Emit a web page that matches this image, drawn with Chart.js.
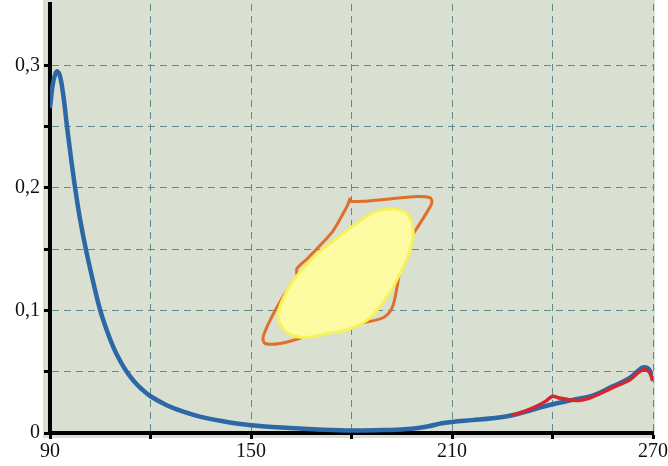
<!DOCTYPE html>
<html>
<head>
<meta charset="utf-8">
<script src="https://cdn.jsdelivr.net/npm/chart.js@4.4.1/dist/chart.umd.min.js"></script>
<style>
  html, body { margin: 0; padding: 0; background: #fff; }
  #wrap { width: 668px; height: 466px; }
</style>
</head>
<body>
<div id="wrap"><canvas id="specChart" width="668" height="466"></canvas></div>
<script>
// main spectrum (blue) and second measurement (red)
const blueX = [90, 90.8, 91.6, 92.2, 93.0, 94.0, 95.0, 96.0, 97.5, 99.0, 100.7, 103.0, 105.0, 107.0, 109.0, 111.0, 113.0, 115.0, 117.5, 120.0, 125.0, 130.0, 135.0, 142.0, 150.0, 161.6, 170, 180, 190, 198, 203, 207, 210, 216, 222, 228, 234, 240, 246, 252, 257.2, 263.1, 265.5, 267, 268.3, 269.2, 270];
const blueY = [0.265, 0.284, 0.293, 0.295, 0.291, 0.275, 0.252, 0.230, 0.200, 0.174, 0.150, 0.122, 0.100, 0.0835, 0.0695, 0.0585, 0.0495, 0.0425, 0.0355, 0.0300, 0.0225, 0.0172, 0.0132, 0.0094, 0.0064, 0.0040, 0.0028, 0.0020, 0.0024, 0.0034, 0.0055, 0.0080, 0.0090, 0.0105, 0.0120, 0.0145, 0.0190, 0.0235, 0.0270, 0.0305, 0.0370, 0.0450, 0.0505, 0.0535, 0.0530, 0.0500, 0.0430];

const redX = [228, 232, 235, 238, 240, 242, 245, 248, 252, 257.2, 263.1, 265.5, 267, 268.3, 269.2, 270];
const redY = [0.0145, 0.0180, 0.0215, 0.0260, 0.0300, 0.0285, 0.0272, 0.0265, 0.0295, 0.0360, 0.0435, 0.0490, 0.0515, 0.0510, 0.0485, 0.0425];

// filled yellow region
const blobX = [192.4, 196.6, 198.4, 197.5, 194.5, 190.6, 185.5, 179.6, 172.7, 165.5, 160.7, 158.1, 159.3, 162.5, 168.5, 175.7, 182.5, 187.6, 192.4];
const blobY = [0.183, 0.179, 0.165, 0.149, 0.130, 0.111, 0.094, 0.085, 0.081, 0.078, 0.082, 0.094, 0.108, 0.124, 0.143, 0.159, 0.173, 0.181, 0.183];

// orange contour around it
const loopX = [179.6, 183.4, 191.5, 199.5, 203.4, 204.0, 202.5, 199.5, 196.6, 195.1, 194.5, 193.6, 192.1, 189.4, 183.4, 177.5, 174.2, 172.7, 165.5, 158.7, 154.2, 153.6, 155.7, 159.5, 162.5, 163.7, 163.7, 166.7, 170.6, 174.5, 177.5, 179.0, 179.6];
const loopY = [0.189, 0.189, 0.191, 0.193, 0.192, 0.188, 0.180, 0.167, 0.155, 0.147, 0.135, 0.119, 0.102, 0.094, 0.090, 0.089, 0.087, 0.085, 0.078, 0.073, 0.073, 0.078, 0.092, 0.111, 0.123, 0.127, 0.134, 0.142, 0.153, 0.165, 0.179, 0.187, 0.192];

const xTickLabels = [90, 150, 210, 270];
const yTickLabels = [0, 0.1, 0.2, 0.3];

function pts(xs, ys) {
    return xs.map((x, i) => ({ x: x, y: ys[i] }));
}

const plotBg = {
    id: "plotBg",
    beforeDraw(chart) {
        const { ctx, chartArea: a } = chart;
        ctx.save();
        ctx.fillStyle = "#d9dfd1";
        ctx.fillRect(a.left - 7, 0, a.right - a.left + 9, a.bottom + 5);
        ctx.restore();
    }
};

const gridColor = "#62898b";
const serif = { family: "'Liberation Serif', 'Times New Roman', serif", size: 20 };
const hideTop = c => c.tick && c.tick.value > 0.349;

new Chart(document.getElementById("specChart"), {
    type: "scatter",
    data: {
        datasets: [
            {
                data: pts(blobX, blobY),
                showLine: true,
                fill: "shape",
                backgroundColor: "#fdfca2",
                borderColor: "#f6f25a",
                borderWidth: 3,
                tension: 0.4,
                pointRadius: 0
            },
            {
                data: pts(loopX, loopY),
                showLine: true,
                borderColor: "#df6f2c",
                borderWidth: 3,
                tension: 0.3,
                pointRadius: 0
            },
            {
                data: pts(redX, redY),
                showLine: true,
                borderColor: "#d6262e",
                borderWidth: 3.5,
                tension: 0.3,
                pointRadius: 0
            },
            {
                data: pts(blueX, blueY),
                showLine: true,
                borderColor: "#2c67a6",
                borderWidth: 4.5,
                tension: 0.4,
                pointRadius: 0
            }
        ]
    },
    options: {
        responsive: false,
        animation: false,
        layout: { padding: { top: 4, right: 15, left: 0, bottom: 0 } },
        plugins: { legend: { display: false }, tooltip: { enabled: false } },
        scales: {
            x: {
                type: "linear",
                min: 90,
                max: 270,
                afterFit(scale) {
                    scale.height = 33;
                    scale.paddingLeft = 0;
                    scale.paddingRight = 0;
                },
                ticks: {
                    stepSize: 30,
                    autoSkip: false,
                    maxRotation: 0,
                    color: "#111",
                    font: serif,
                    padding: 1,
                    callback: v => xTickLabels.includes(v) ? String(v) : ""
                },
                grid: {
                    color: gridColor,
                    lineWidth: 1,
                    tickLength: 6,
                    tickColor: "#000",
                    tickWidth: 3,
                    tickBorderDash: []
                },
                border: { display: true, color: "#000", width: 4, dash: [7, 5] }
            },
            y: {
                min: 0,
                max: 0.35,
                afterFit(scale) {
                    scale.width = 50;
                    scale.paddingTop = 0;
                    scale.paddingBottom = 0;
                },
                ticks: {
                    stepSize: 0.05,
                    color: "#111",
                    font: serif,
                    padding: 4,
                    callback: v => {
                        const hit = yTickLabels.find(t => Math.abs(t - v) < 1e-6);
                        return hit === undefined ? "" : String(hit).replace(".", ",");
                    }
                },
                grid: {
                    color: c => hideTop(c) ? "rgba(0,0,0,0)" : gridColor,
                    lineWidth: 1,
                    tickLength: 6,
                    tickColor: c => hideTop(c) ? "rgba(0,0,0,0)" : "#000",
                    tickWidth: 3,
                    tickBorderDash: []
                },
                border: { display: true, color: "#000", width: 4, dash: [7, 5] }
            }
        }
    },
    plugins: [plotBg]
});
</script>
</body>
</html>
